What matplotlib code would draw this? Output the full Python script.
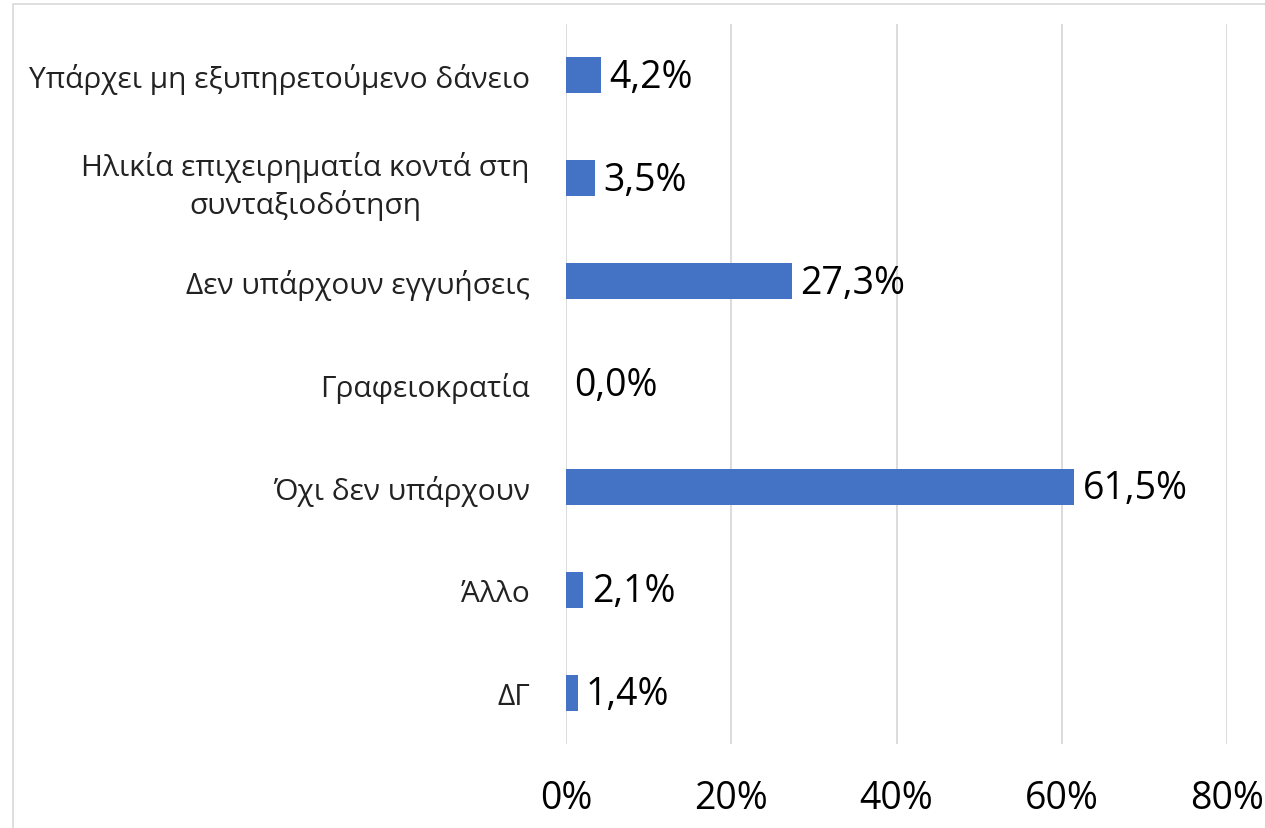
import matplotlib
matplotlib.use("Agg")
import matplotlib.pyplot as plt
from matplotlib.lines import Line2D

plt.rcParams['font.family'] = ['Open Sans', 'DejaVu Sans']

# categories top to bottom, as in the picture
categories = [
    "Υπάρχει μη εξυπηρετούμενο δάνειο",
    "Ηλικία επιχειρηματία κοντά στη\nσυνταξιοδότηση",
    "Δεν υπάρχουν εγγυήσεις",
    "Γραφειοκρατία",
    "Όχι δεν υπάρχουν",
    "Άλλο",
    "ΔΓ",
]
values = [4.2, 3.5, 27.3, 0.0, 61.5, 2.1, 1.4]
xticks = [0, 20, 40, 60, 80]

fig = plt.figure(figsize=(12.65, 8.29), dpi=100)
# light frame (only top and left edges show in the picture)
fx, fy = 12.5 / 1265, 1 - 4.5 / 829
fig.lines.append(Line2D([fx, fx, 1], [0, fy, fy], transform=fig.transFigure,
                        color="#D9D9D9", linewidth=1.2))
ax = fig.add_axes([566 / 1265, 1 - 745 / 829, (1227 - 566) / 1265, (745 - 25) / 829])

ypos = list(range(len(categories)))
ax.barh(ypos, values, height=0.35, color="#4472C4", zorder=3)

for y, v in zip(ypos, values):
    ax.annotate(f"{v:.1f}%".replace(".", ","), (v, y), xytext=(6, -1),
                textcoords="offset points", va="center", ha="left",
                fontsize=27, color="black")

ax.set_xlim(0, 80)
ax.set_ylim(len(categories) - 0.5, -0.5)
ax.set_yticks(ypos)
ax.set_yticklabels(categories, fontsize=21.5, color="#222222", linespacing=1.3)
ax.set_xticks(xticks)
ax.set_xticklabels([f"{t}%" for t in xticks], fontsize=27)
ax.tick_params(axis="x", length=0, pad=25)
ax.tick_params(axis="y", length=0, pad=26)
for label in ax.get_yticklabels():
    label.set_horizontalalignment("right")
    label.set_multialignment("center")

ax.grid(axis="x", color="#D9D9D9", linewidth=1.3, zorder=0)
for s in ax.spines.values():
    s.set_visible(False)

fig.savefig("out.png", dpi=100)
